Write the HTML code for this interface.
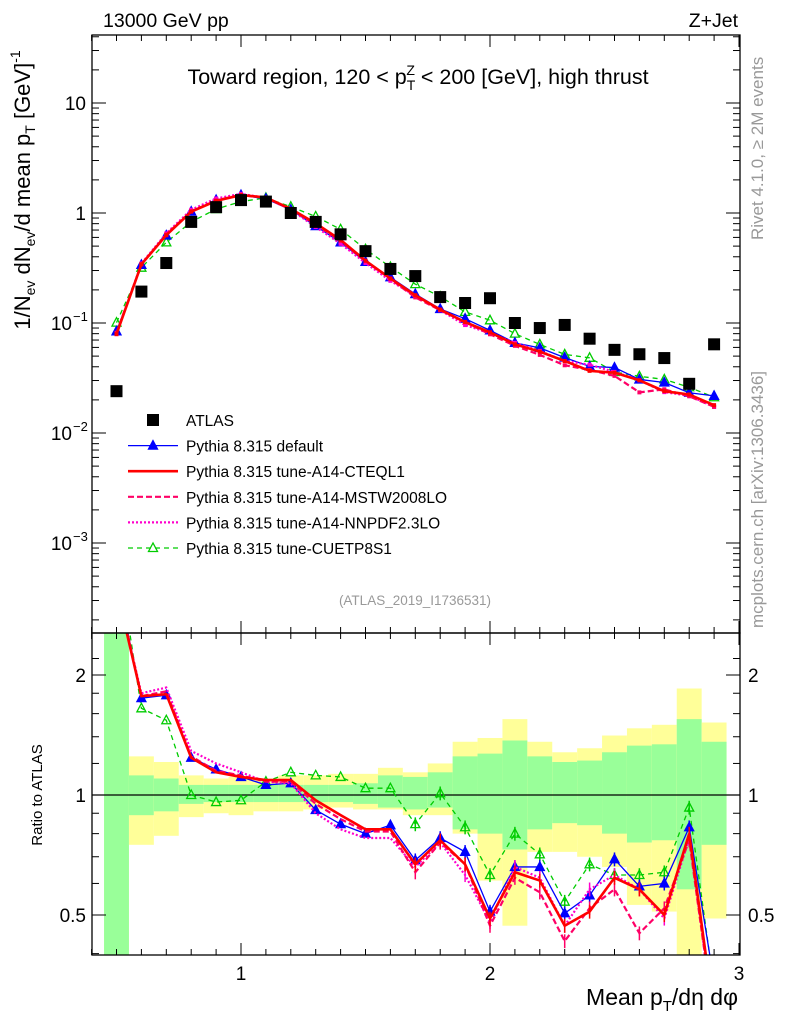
<!DOCTYPE html>
<html><head><meta charset="utf-8"><style>
body{margin:0;background:#fff;}
svg text{font-family:"Liberation Sans",sans-serif;}
</style></head><body>
<svg id="c" width="786" height="1024" xmlns="http://www.w3.org/2000/svg">
<defs>
<clipPath id="cm"><rect x="92" y="35" width="648" height="598"/></clipPath>
<clipPath id="cr"><rect x="92" y="633" width="648" height="322"/></clipPath>
</defs>
<g id="bands" clip-path="url(#cr)"></g>
<g id="main" clip-path="url(#cm)"></g>
<g id="ratio" clip-path="url(#cr)"></g>
<g id="axes"></g>
<text x="103" y="27" font-size="19.5">13000 GeV pp</text>
<text x="738" y="27" font-size="19.5" text-anchor="end">Z+Jet</text>
<text x="418" y="84" font-size="21.5" text-anchor="middle">Toward region, 120 &lt; p<tspan font-size="14" dy="6">T</tspan><tspan font-size="14" dx="-9" dy="-15">Z</tspan><tspan dy="9"> &lt; 200 [GeV], high thrust</tspan></text>
<text x="415" y="605" font-size="13.5" fill="#999" text-anchor="middle">(ATLAS_2019_I1736531)</text>
<text transform="translate(763,240) rotate(-90)" font-size="17" fill="#999">Rivet 4.1.0, ≥ 2M events</text>
<text transform="translate(763,628) rotate(-90)" font-size="17" fill="#999">mcplots.cern.ch [arXiv:1306.3436]</text>
<text transform="translate(30,190) rotate(-90)" font-size="22" text-anchor="middle">1/N<tspan font-size="14" dy="5">ev</tspan><tspan dy="-5"> dN</tspan><tspan font-size="14" dy="5">ev</tspan><tspan dy="-5">/d mean p</tspan><tspan font-size="14" dy="5">T</tspan><tspan dy="-5"> [GeV]</tspan><tspan font-size="14" dy="-10">-1</tspan></text>
<text transform="translate(42,795) rotate(-90)" font-size="15" text-anchor="middle">Ratio to ATLAS</text>
<text x="738" y="1005" font-size="23" text-anchor="end">Mean p<tspan font-size="15" dy="6">T</tspan><tspan dy="-6">/dη dφ</tspan></text>
<g id="legend"></g>
</svg>
<script>
const xs=[0.5,0.6,0.7,0.8,0.9,1.0,1.1,1.2,1.3,1.4,1.5,1.6,1.7,1.8,1.9,2.0,2.1,2.2,2.3,2.4,2.5,2.6,2.7,2.8,2.9];
const atlas=[0.024,0.193,0.351,0.83,1.13,1.31,1.27,1.0,0.83,0.64,0.45,0.31,0.267,0.172,0.152,0.168,0.10,0.090,0.096,0.072,0.057,0.052,0.048,0.028,0.064];
const rDefault=[3.5,1.75,1.78,1.24,1.16,1.11,1.06,1.07,0.917,0.845,0.80,0.84,0.686,0.78,0.72,0.51,0.66,0.66,0.505,0.56,0.69,0.59,0.60,0.83,0.34];
const rCTEQ=[3.3,1.77,1.79,1.24,1.14,1.11,1.09,1.09,0.97,0.89,0.82,0.82,0.67,0.77,0.67,0.49,0.64,0.61,0.47,0.51,0.62,0.58,0.50,0.80,0.28];
const rMSTW=[3.4,1.77,1.82,1.25,1.15,1.12,1.08,1.08,0.95,0.87,0.81,0.81,0.64,0.76,0.67,0.47,0.62,0.57,0.43,0.52,0.58,0.45,0.52,0.77,0.27];
const rNNPDF=[3.3,1.8,1.86,1.29,1.20,1.14,1.08,1.07,0.90,0.82,0.78,0.78,0.66,0.76,0.63,0.48,0.66,0.62,0.47,0.58,0.63,0.58,0.49,0.78,0.27];
const rCUETP=[4.2,1.65,1.54,1.0,0.96,0.97,1.08,1.14,1.12,1.11,1.04,1.04,0.845,1.01,0.83,0.63,0.80,0.71,0.54,0.67,0.63,0.63,0.64,0.93,0.33];
const yelUp=[3,1.25,1.21,1.12,1.10,1.11,1.10,1.12,1.12,1.13,1.13,1.17,1.14,1.20,1.36,1.39,1.55,1.36,1.28,1.31,1.41,1.47,1.50,1.85,1.52];
const yelDn=[0.3,0.75,0.79,0.88,0.90,0.89,0.91,0.91,0.92,0.93,0.92,0.92,0.89,0.89,0.80,0.61,0.47,0.72,0.72,0.70,0.66,0.53,0.51,0.3,0.49];
const grnUp=[3,1.12,1.10,1.06,1.06,1.06,1.06,1.06,1.06,1.06,1.07,1.12,1.11,1.14,1.25,1.27,1.37,1.25,1.21,1.22,1.28,1.33,1.34,1.55,1.36];
const grnDn=[0.3,0.89,0.91,0.95,0.96,0.96,0.96,0.96,0.96,0.96,0.95,0.93,0.92,0.93,0.82,0.80,0.73,0.82,0.85,0.84,0.80,0.76,0.77,0.58,0.75];
const NS='http://www.w3.org/2000/svg';
const X=v=>241+(v-1)*249;
const Y=v=>213-110*Math.log10(v);
const R=v=>795-120*Math.log2(v);
function el(t,a,p){const e=document.createElementNS(NS,t);for(const k in a)e.setAttribute(k,a[k]);document.getElementById(p).appendChild(e);return e;}
xs.forEach((v,i)=>{
 const x0=X(v-0.05),x1=X(v+0.05);
 let b=el('rect',{x:x0,y:R(yelUp[i]),width:x1-x0,height:R(yelDn[i])-R(yelUp[i]),fill:'#ffff99'},'bands');
 
 
 let g=el('rect',{x:x0,y:R(grnUp[i]),width:x1-x0,height:R(grnDn[i])-R(grnUp[i]),fill:'#99ff99'},'bands');
 
 
});
let l1=el('line',{x1:92,x2:740,y1:R(1),y2:R(1),stroke:'#000','stroke-width':1.3},'bands');


const series=[
 {r:rCUETP,c:'#00cc00',w:1.3,d:'5,4',m:'otri',n:'Pythia 8.315 tune-CUETP8S1',k:'cuetp8s1'},
 {r:rDefault,c:'#0000ff',w:1.3,d:'',m:'tri',n:'Pythia 8.315 default',k:'default'},
 {r:rNNPDF,c:'#ff00cc',w:2.2,d:'2,2',m:null,n:'Pythia 8.315 tune-A14-NNPDF2.3LO',k:'nnpdf'},
 {r:rMSTW,c:'#ff0066',w:2.2,d:'6,3',m:null,n:'Pythia 8.315 tune-A14-MSTW2008LO',k:'mstw'},
 {r:rCTEQ,c:'#ff0000',w:2.6,d:'',m:null,n:'Pythia 8.315 tune-A14-CTEQL1',k:'cteql1'}];
function tri(p,x,y,c,open,name){const t=el('polygon',{points:`${x},${y-5} ${x-4.5},${y+3.5} ${x+4.5},${y+3.5}`,fill:open?'none':c,stroke:c,'stroke-width':1.3},p);}
series.forEach(s=>{
 const mp=xs.map((v,i)=>X(v)+','+Y(atlas[i]*s.r[i])).join(' ');
 const rp=xs.map((v,i)=>X(v)+','+R(s.r[i])).join(' ');
 let a=el('polyline',{points:mp,fill:'none',stroke:s.c,'stroke-width':s.w,'stroke-dasharray':s.d},'main');
 
 
 let b=el('polyline',{points:rp,fill:'none',stroke:s.c,'stroke-width':s.w,'stroke-dasharray':s.d},'ratio');
 
 
 xs.forEach((v,i)=>{
  if(v>=1.7){const e=0.04*s.r[i];let eb=el('line',{x1:X(v),x2:X(v),y1:R(s.r[i]+e),y2:R(s.r[i]-e),stroke:s.c,'stroke-width':1.5},'ratio');}
  if(s.m){tri('main',X(v),Y(atlas[i]*s.r[i]),s.c,s.m==='otri','marker-'+s.k);tri('ratio',X(v),R(s.r[i]),s.c,s.m==='otri','ratio-marker-'+s.k);}
  else{let q=el('rect',{x:X(v)-2,y:Y(atlas[i]*s.r[i])-2,width:4,height:4,fill:s.c},'main');}
 });
});
xs.forEach((v,i)=>{let q=el('rect',{x:X(v)-6,y:Y(atlas[i])-6,width:12,height:12,fill:'#000'},'main');
 
 });
el('rect',{x:92,y:35,width:648,height:598,fill:'none',stroke:'#000','stroke-width':1.3},'axes');
el('rect',{x:92,y:633,width:648,height:322,fill:'none',stroke:'#000','stroke-width':1.3},'axes');
for(let v=0.4;v<=3.001;v+=0.1){const x=X(v);const maj=Math.abs(v-Math.round(v))<1e-6;const L=maj?12:6;
 [[35,1],[633,-1],[633,1],[955,-1]].forEach(([y,d])=>el('line',{x1:x,x2:x,y1:y,y2:y+d*L,stroke:'#000'},'axes'));}
const xt=['1','2','3'];
[1,2,3].forEach((v,i)=>{let t=el('text',{x:X(v),y:980,'font-size':19,'text-anchor':'middle'},'axes');t.textContent=xt[i];});
for(let e=-4;e<=1;e++)for(let m=1;m<10;m++){const v=m*Math.pow(10,e);const y=Y(v);if(y<35||y>633)continue;const L=m===1?14:7;
 el('line',{x1:92,x2:92+L,y1:y,y2:y,stroke:'#000'},'axes');el('line',{x1:740,x2:740-L,y1:y,y2:y,stroke:'#000'},'axes');}
const yl=[[10,'10',''],[1,'1',''],[0.1,'10','−1'],[0.01,'10','−2'],[0.001,'10','−3']];
yl.forEach(([v,b,s])=>{let t=el('text',{x:s?72:86,y:Y(v)+7,'font-size':19,'text-anchor':'end'},'axes');t.textContent=b;
 if(s){let u=el('text',{x:73,y:Y(v)-2,'font-size':13},'axes');u.textContent=s;}});
[0.4,0.5,0.6,0.7,0.8,0.9,1,1.2,1.4,1.6,1.8,2,2.2].forEach(v=>{const y=R(v);const maj=(v===0.5||v===1||v===2);const L=maj?14:7;
 el('line',{x1:92,x2:92+L,y1:y,y2:y,stroke:'#000'},'axes');el('line',{x1:740,x2:740-L,y1:y,y2:y,stroke:'#000'},'axes');});
[[2,'2'],[1,'1'],[0.5,'0.5']].forEach(([v,s])=>{let t=el('text',{x:86,y:R(v)+7,'font-size':19,'text-anchor':'end'},'axes');t.textContent=s;
 let t2=el('text',{x:748,y:R(v)+7,'font-size':19},'axes');t2.textContent=s;});
const legOrder=[rDefault,rCTEQ,rMSTW,rNNPDF,rCUETP];
const leg=[{n:'ATLAS',k:'atlas'}].concat(legOrder.map(r=>series.find(s=>s.r===r)));
leg.forEach((s,i)=>{const y=420+i*25.6;
 if(s.k==='atlas'){el('rect',{x:147,y:y-6,width:12,height:12,fill:'#000'},'legend');}
 else{el('line',{x1:128,x2:178,y1:y,y2:y,stroke:s.c,'stroke-width':s.w,'stroke-dasharray':s.d},'legend');if(s.m)tri('legend',153,y,s.c,s.m==='otri','legend-marker');}
 let t=el('text',{x:186,y:y+6,'font-size':15.5},'legend');t.textContent=s.n;
 
 });
</script>
</body></html>
